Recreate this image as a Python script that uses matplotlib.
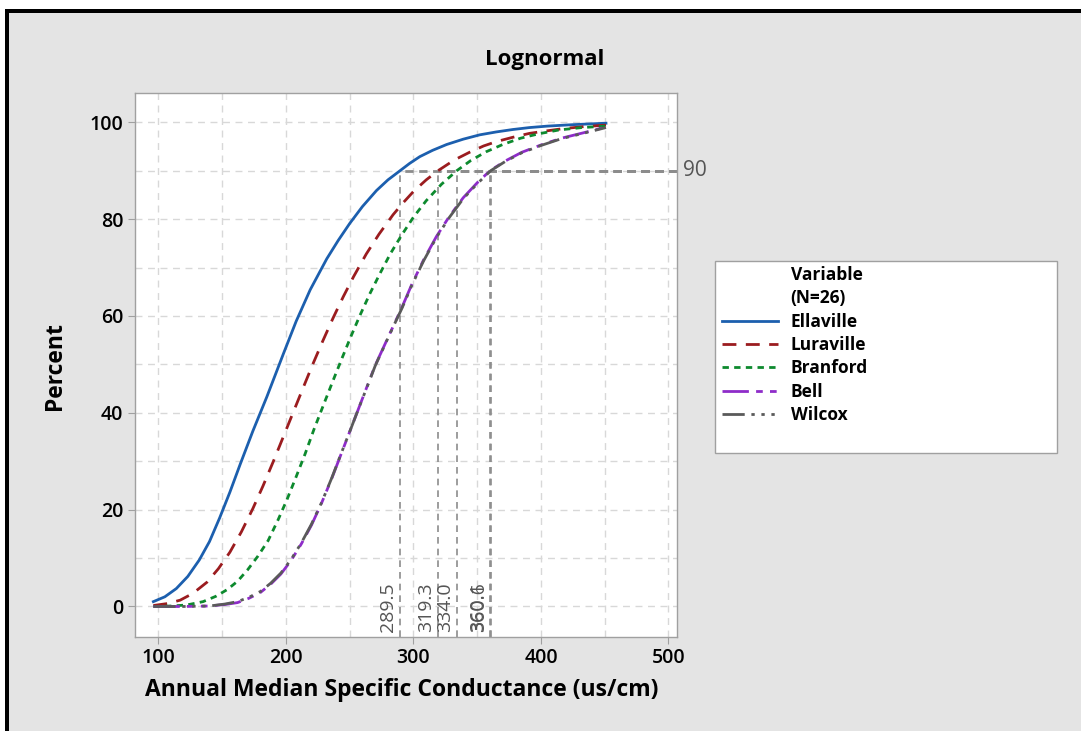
import matplotlib
matplotlib.use("Agg")
import matplotlib.pyplot as plt
from matplotlib.patches import Rectangle
from matplotlib.lines import Line2D
from matplotlib.ticker import MultipleLocator

plt.rcParams['font.family'] = ['Open Sans', 'DejaVu Sans']

# --- data (fitted lognormal CDF curves, percent) ---
names = ["Ellaville", "Luraville", "Branford", "Bell", "Wilcox"]

ella_x = [96, 105, 114, 123, 132, 140, 148, 156, 164, 174, 185, 198, 208, 219, 232, 241,
          250, 260, 271, 280, 289.5, 297, 305, 315, 326, 339, 352, 365, 378, 391, 405, 425, 451]
ella_y = [1.0, 2.0, 3.7, 6.2, 9.6, 13.4, 18.3, 23.6, 29.3, 36.2, 43.3, 52.2, 58.9, 65.4, 71.8, 75.6,
          79.1, 82.6, 85.9, 88.1, 90.0, 91.5, 92.9, 94.2, 95.4, 96.5, 97.4, 98.0, 98.5, 98.9, 99.2, 99.5, 99.8]

lura_x = [96, 107, 117, 127, 138, 147, 156, 165, 174, 182, 190, 198, 206, 214, 221, 229, 237, 245,
          253, 263, 273, 284, 292, 300, 310, 319.3, 332, 344, 355, 365, 378, 391, 404, 418, 434, 451]
lura_y = [0.2, 0.6, 1.3, 2.7, 5.0, 7.8, 11.2, 15.4, 20.2, 24.9, 29.9, 35.1, 40.3, 45.5, 50.0, 54.9, 59.6, 64.0,
          68.1, 72.8, 76.9, 80.9, 83.4, 85.7, 88.1, 90.0, 92.2, 93.8, 95.1, 96.0, 96.9, 97.7, 98.2, 98.7, 99.1, 99.4]

bran_x = [96, 110, 122, 135, 145, 154, 162, 170, 178, 186, 194, 201, 208, 215, 222, 230, 237, 244,
          251, 258, 266, 274, 282, 291, 300, 310, 322, 334, 345, 357, 370, 384, 398, 414, 432, 451]
bran_y = [0.0, 0.1, 0.3, 1.0, 2.1, 3.5, 5.2, 7.6, 10.4, 13.6, 18.0, 22.2, 26.8, 31.5, 36.6, 42.0, 46.7, 51.3,
          55.8, 60.1, 64.7, 68.9, 72.9, 76.8, 80.4, 83.8, 87.2, 90.0, 92.1, 93.9, 95.4, 96.7, 97.6, 98.4, 98.9, 99.2]

bell_x = [96, 120, 140, 152, 162, 171, 180, 188, 196, 204, 212, 220, 228, 236, 243, 250, 257, 264,
          270, 277, 284, 291, 299, 308, 318, 328, 339, 350, 360.1, 372, 385, 400, 416, 433, 451]
bell_y = [0.0, 0.0, 0.1, 0.4, 0.8, 1.7, 2.9, 4.6, 6.7, 9.5, 12.9, 16.8, 21.4, 26.5, 31.3, 36.1, 40.9, 45.7,
          49.8, 53.8, 57.8, 61.8, 66.7, 71.6, 76.4, 80.5, 84.4, 87.5, 90.0, 92.0, 93.8, 95.3, 96.7, 97.8, 99.0]

wilc_x = [96, 120, 140, 152, 162, 171, 180, 188, 196, 204, 212, 220, 228, 236, 243, 250, 257, 264,
          270, 277, 284, 291, 299, 308, 318, 328, 339, 350, 360.6, 372, 385, 400, 416, 433, 451]
wilc_y = [0.0, 0.0, 0.1, 0.5, 1.0, 1.9, 3.1, 4.8, 6.9, 9.7, 13.1, 17.0, 21.5, 26.6, 31.4, 36.1, 40.9, 45.6,
          49.7, 53.7, 57.7, 61.6, 66.5, 71.4, 76.2, 80.3, 84.2, 87.3, 90.0, 91.9, 93.7, 95.2, 96.6, 97.7, 98.9]

p90_vals = [289.5, 319.3, 334.0, 360.1, 360.6]
p90_text = ["289.5", "319.3", "334.0", "360.1", "360.6"]

colors = ["#1c5fae", "#9b1c1f", "#0d8a2e", "#8e2cc9", "#5a5a5a"]
styles = ["-", (0, (5, 3.4)), (0, (2.3, 1.9)),
          (0, (9.5, 2.6, 2.4, 2.6, 2.4, 2.6)),
          (0, (8, 2.4, 1.2, 2.4, 1.2, 2.4, 1.2, 2.4))]

W, H = 1081, 731
fig = plt.figure(figsize=(W / 100, H / 100), dpi=100)
fig.patch.set_facecolor("white")


def fx(px):
    return px / W


def fy(py):
    return 1 - py / H


# grey panel + black frame (top and left)
fig.patches.append(Rectangle((fx(5), 0), 1, fy(9), transform=fig.transFigure,
                             facecolor="#e4e4e4", edgecolor="none", zorder=-10))
fig.patches.append(Rectangle((fx(5), fy(13)), 1, fy(9) - fy(13), transform=fig.transFigure,
                             facecolor="black", edgecolor="none", zorder=-5))
fig.patches.append(Rectangle((fx(5), 0), fx(4), fy(9), transform=fig.transFigure,
                             facecolor="black", edgecolor="none", zorder=-5))

ax = fig.add_axes([fx(134.5), fy(636.5), fx(676.5) - fx(134.5), fy(92.7) - fy(636.5)])
ax.set_facecolor("white")
ax.set_xlim(81.2, 506.3)
ax.set_ylim(-6.2, 106.1)

ax.xaxis.set_major_locator(MultipleLocator(100))
ax.xaxis.set_minor_locator(MultipleLocator(50))
ax.yaxis.set_major_locator(MultipleLocator(20))
ax.yaxis.set_minor_locator(MultipleLocator(10))
ax.grid(True, which="both", color="#d8d8d8", linestyle=(0, (5, 4)), linewidth=1)
ax.set_axisbelow(True)
ax.tick_params(which="major", length=5, color="#a0a0a0", labelsize=14, pad=3)
ax.tick_params(which="minor", length=0)
for lab in ax.get_xticklabels() + ax.get_yticklabels():
    lab.set_fontweight("semibold")
for s in ax.spines.values():
    s.set_color("#a0a0a0")
    s.set_linewidth(1)

series = [(ella_x, ella_y), (lura_x, lura_y), (bran_x, bran_y),
          (bell_x, bell_y), (wilc_x, wilc_y)]
for (xs, ys), name, c, ls in zip(series, names, colors, styles):
    ax.plot(xs, ys, color=c, linestyle=ls, linewidth=2, label=name, zorder=3)

# 90th percentile reference lines (drawn from the right edge so the dashes line up)
xmax = ax.get_xlim()[1]
ybot = ax.get_ylim()[0]
for v, t in zip(p90_vals, p90_text):
    ax.plot([xmax, v], [90, 90], color="#8c8c8c", linestyle=(0, (3, 2)), linewidth=2, zorder=2)
    ax.plot([v, v], [ybot, 90], color="#8c8c8c", linestyle=(0, (4, 3)), linewidth=1.2, zorder=2)
    ax.annotate(t, (v, ybot), xytext=(-2, 3), textcoords="offset points",
                rotation=90, ha="right", va="bottom", color="#555555", fontsize=14)
ax.annotate("90", (xmax, 90), xytext=(5, 0), textcoords="offset points",
            ha="left", va="center", color="#555555", fontsize=15, annotation_clip=False)

fig.text(fx(545), fy(60), "Lognormal", ha="center", va="center", fontsize=16, fontweight="bold")
fig.text(fx(402), fy(690), "Annual Median Specific Conductance (us/cm)", ha="center", va="center",
         fontsize=16.5, fontweight="bold")
fig.text(fx(55), fy(366), "Percent", ha="center", va="center", rotation=90,
         fontsize=16.5, fontweight="bold")

# legend box
fig.patches.append(Rectangle((fx(715), fy(453.3)), fx(1056.7) - fx(715), fy(261) - fy(453.3),
                             transform=fig.transFigure, facecolor="white",
                             edgecolor="#a0a0a0", linewidth=1, zorder=1))
blank = Line2D([], [], linestyle="none")
handles, labels = ax.get_legend_handles_labels()
leg = fig.legend([blank, blank] + handles, ["Variable", "(N=26)"] + labels,
                 loc="upper left", bbox_to_anchor=(fx(715), fy(259)), frameon=False,
                 prop={"weight": "bold", "size": 12.5}, handlelength=3.2,
                 handletextpad=0.75, labelspacing=0.31, borderaxespad=0)
leg.set_zorder(5)

fig.savefig("out.png", dpi=100, facecolor=fig.get_facecolor())
